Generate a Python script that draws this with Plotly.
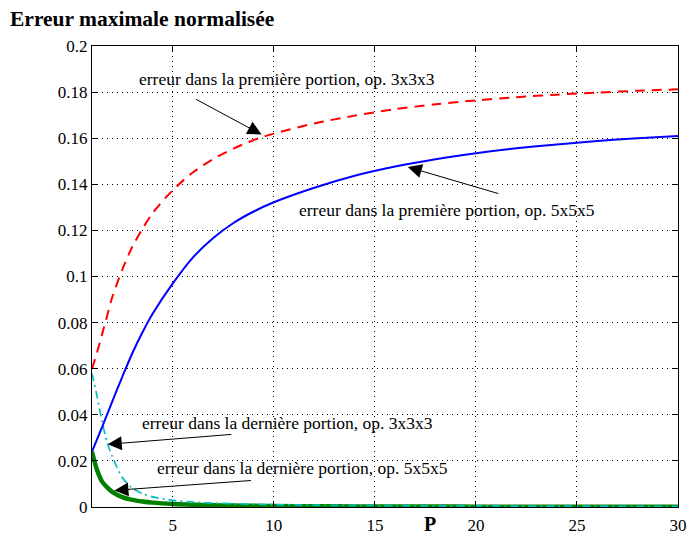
import plotly.graph_objects as go

# P values
P = [1, 1.25, 1.5, 1.75, 2, 2.5, 3, 3.5, 4, 5, 6, 7, 8, 9, 10, 12, 14, 16, 18, 20, 22, 24, 26, 28, 30]

# erreur dans la première portion, op. 3x3x3 (red dashed)
first_3 = [0.060, 0.067, 0.075, 0.083, 0.091, 0.103, 0.113, 0.1207, 0.1275, 0.1375, 0.1452, 0.151, 0.1555,
           0.1592, 0.162, 0.1664, 0.1698, 0.1726, 0.1747, 0.1764, 0.1778, 0.1789, 0.1798, 0.1806, 0.1812]
# erreur dans la première portion, op. 5x5x5 (blue solid)
first_5 = [0.024, 0.0293, 0.0347, 0.0402, 0.0457, 0.0565, 0.0668, 0.0758, 0.0838, 0.097, 0.1083, 0.1167, 0.1232,
           0.1282, 0.1322, 0.1385, 0.1437, 0.1477, 0.1509, 0.1535, 0.1556, 0.1573, 0.1588, 0.160, 0.161]
# erreur dans la dernière portion, op. 3x3x3 (cyan dash-dot)
last_3 = [0.058, 0.048, 0.037, 0.028, 0.022, 0.0128, 0.0082, 0.0058, 0.0044, 0.0029, 0.0021, 0.0017, 0.0014,
          0.0012, 0.0010, 0.0008, 0.0007, 0.0006, 0.0005, 0.0005, 0.0004, 0.0004, 0.0004, 0.0003, 0.0003]
# erreur dans la dernière portion, op. 5x5x5 (green thick)
last_5 = [0.024, 0.016, 0.011, 0.0085, 0.0066, 0.0043, 0.0031, 0.0024, 0.0019, 0.0013, 0.0010, 0.0008, 0.0006,
          0.0005, 0.0004, 0.0003, 0.00025, 0.0002, 0.0002, 0.00015, 0.00015, 0.0001, 0.0001, 0.0001, 0.0001]

x_ticks = [5, 10, 15, 20, 25, 30]
y_ticks = [0, 0.02, 0.04, 0.06, 0.08, 0.1, 0.12, 0.14, 0.16, 0.18, 0.2]
y_tick_labels = ["0", "0.02", "0.04", "0.06", "0.08", "0.1", "0.12", "0.14", "0.16", "0.18", "0.2"]

FONT = "Liberation Serif, Times New Roman, serif"

fig = go.Figure()
fig.add_trace(go.Scatter(x=P, y=last_5, mode="lines",
                         line=dict(color="#008000", width=4.5, shape="spline", smoothing=0.8),
                         showlegend=False))
fig.add_trace(go.Scatter(x=P, y=last_3, mode="lines",
                         line=dict(color="#00BFBF", width=1.7, dash="8px,4px,2px,4px", shape="spline",
                                   smoothing=0.8),
                         showlegend=False))
fig.add_trace(go.Scatter(x=P, y=first_5, mode="lines",
                         line=dict(color="#0000FF", width=2, shape="spline", smoothing=0.8),
                         showlegend=False))
fig.add_trace(go.Scatter(x=P, y=first_3, mode="lines",
                         line=dict(color="#FF0000", width=2, dash="10px,7px", shape="spline", smoothing=0.8),
                         showlegend=False))

labels = [
    dict(text="erreur dans la première portion, op. 3x3x3", x=10.65, y=0.1857),
    dict(text="erreur dans la première portion, op. 5x5x5", x=18.55, y=0.1289),
    dict(text="erreur dans la dernière portion, op. 3x3x3", x=10.65, y=0.0363),
    dict(text="erreur dans la dernière portion, op. 5x5x5", x=11.4, y=0.0168),
]
arrows = [
    dict(x=9.39, y=0.1616, ax=-67, ay=-36),
    dict(x=16.63, y=0.1475, ax=92, ay=27),
    dict(x=1.78, y=0.0272, ax=125, ay=-10),
    dict(x=2.11, y=0.0072, ax=138, ay=-10),
]
annotations = []
for lab in labels:
    annotations.append(dict(text=lab["text"], x=lab["x"], y=lab["y"], xref="x", yref="y",
                            showarrow=False, xanchor="center", yanchor="middle",
                            font=dict(family=FONT, size=17.5, color="black")))
for a in arrows:
    annotations.append(dict(text="", x=a["x"], y=a["y"], xref="x", yref="y", ax=a["ax"], ay=a["ay"],
                            axref="pixel", ayref="pixel", showarrow=True, arrowhead=2, arrowsize=2.8,
                            arrowwidth=1, arrowcolor="black", standoff=0))
annotations.append(dict(text="<b>P</b>", x=17.75, y=-0.037, xref="x", yref="paper", showarrow=False,
                        xanchor="center", yanchor="middle", font=dict(family=FONT, size=20, color="black")))

fig.update_layout(
    width=688, height=537,
    margin=dict(l=92, r=10, t=46, b=30, autoexpand=False),
    paper_bgcolor="white", plot_bgcolor="white",
    font=dict(family=FONT, size=17, color="black"),
    title=dict(text="<b>Erreur maximale normalisée</b>", x=10 / 688, xanchor="left",
               y=1 - 18 / 537, yanchor="middle", font=dict(family=FONT, size=21.5, color="black")),
    annotations=annotations,
)
fig.update_xaxes(range=[1, 30], tickvals=x_ticks, ticktext=[str(v) for v in x_ticks],
                 showline=True, linecolor="black", linewidth=1, mirror="ticks",
                 ticks="inside", ticklen=5, tickcolor="black", ticklabelstandoff=3, automargin=False,
                 showgrid=True, gridcolor="black", gridwidth=1, griddash="1px,4px",
                 zeroline=False, tickfont=dict(family=FONT, size=17))
fig.update_yaxes(range=[0, 0.2], tickvals=y_ticks, ticktext=y_tick_labels,
                 showline=True, linecolor="black", linewidth=1, mirror="ticks",
                 ticks="inside", ticklen=5, tickcolor="black", automargin=False,
                 showgrid=True, gridcolor="black", gridwidth=1, griddash="1px,4px",
                 zeroline=False, tickfont=dict(family=FONT, size=17))

fig.write_html("out.html")
